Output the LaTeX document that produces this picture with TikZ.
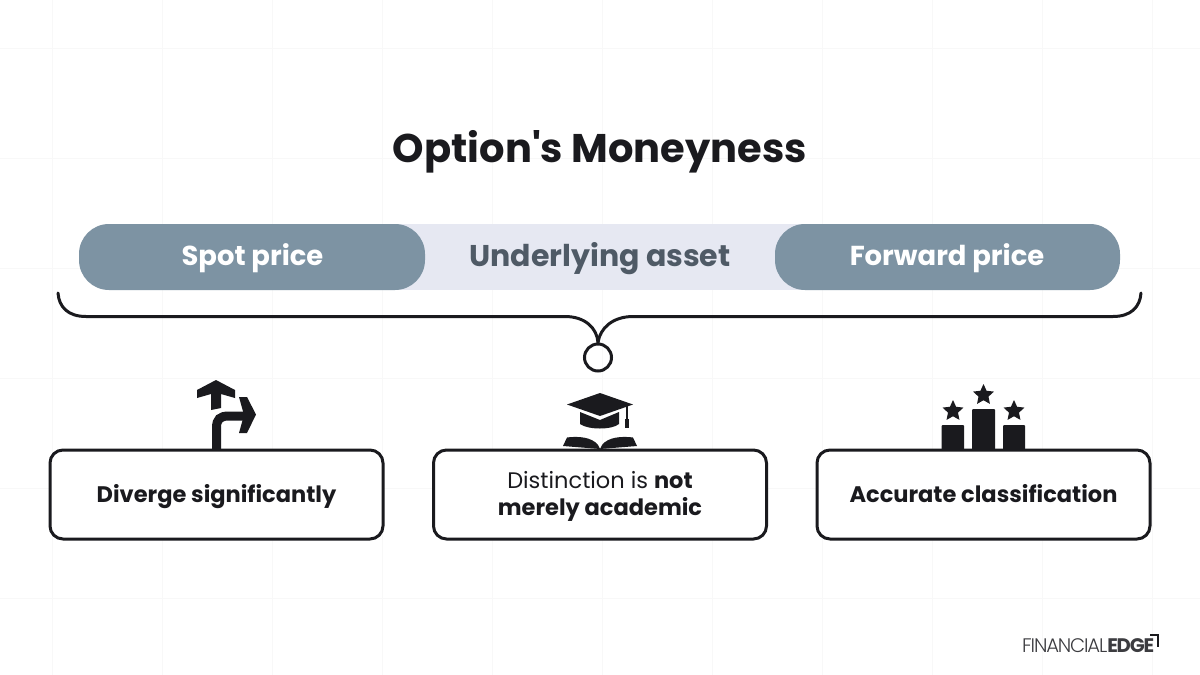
\documentclass[tikz,border=0pt]{standalone}
\usepackage{fontspec}
\setmainfont{Poppins}
\newfontfamily\lightfont{Poppins Light}
\newfontfamily\rawfont{Poppins}[Ligatures=Common]
\newcommand{\cardtxt}[1]{\raisebox{-2pt}[\height][\depth]{#1}}
\usetikzlibrary{shapes.geometric}
\definecolor{ink}{HTML}{1A1A1E}
\definecolor{pill}{HTML}{7D93A3}
\definecolor{band}{HTML}{E6E8F2}
\definecolor{midtxt}{HTML}{4F5A66}
\definecolor{gridc}{HTML}{F8F8F8}
\tikzset{
  x=1pt,y=-1pt,
  pillbox/.style={fill=pill,rounded corners=30pt},
  cardbox/.style={draw=ink,line width=3pt,fill=white,rounded corners=13pt,minimum width=333pt,minimum height=89pt,inner sep=0pt,align=center,font=\fontsize{22.5}{28}\selectfont,text=ink},
  pilltext/.style={text=white,font=\fontsize{27.4}{32}\bfseries\selectfont},
  gridline/.style={draw=gridc,line width=0.8pt},
  starshape/.style={star,star points=5,star point ratio=2.1,fill=ink,draw=none,inner sep=0pt,minimum size=#1}
}
\begin{document}
\begin{tikzpicture}
\useasboundingbox (0,0) rectangle (1200,675);
\fill[white] (0,0) rectangle (1200,675);
% faint background grid
\foreach \gx in {52,162,272,382,492,602,712,822,932,1042,1152}
  \draw[gridline] (\gx,0) -- (\gx,675);
\foreach \gy in {48,158,268,378,488,598}
  \draw[gridline] (0,\gy) -- (1200,\gy);
% title
\node[text=ink,font=\fontsize{40}{48}\selectfont] (title) at (600,152) {\rawfont\bfseries Option's Moneyness};
% band
\fill[band] (250,224) rectangle (950,290);
\path[pillbox] (79,224) rectangle (425,290);
\path[pillbox] (775,224) rectangle (1120,290);
\node[pilltext] (spot) at (252.5,258) {Spot price};
\node[pilltext] (fwd) at (947,258) {Forward price};
\node[text=midtxt,font=\fontsize{30}{34}\bfseries\selectfont] (under) at (600,259) {Underlying asset};
% brace
\node[circle,draw=ink,line width=3pt,minimum size=27pt,inner sep=0pt] (ring) at (598,357.5) {};
\coordinate (bl) at (58,293);
\coordinate (br) at (1141,293);
\draw[ink,line width=3pt,line cap=round]
  (bl) .. controls (59,307) and (68,316.5) .. (86,316.5) -- (565,316.5)
  .. controls (585,316.5) and (597,328) .. (ring.north);
\draw[ink,line width=3pt,line cap=round]
  (br) .. controls (1140,307) and (1131,316.5) .. (1113,316.5) -- (633,316.5)
  .. controls (613,316.5) and (600,328) .. (ring.north);
% cards
\node[cardbox] (c1) at (216.5,494.5) {\cardtxt{\textbf{Diverge significantly}\vphantom{Ag}}};
\node[cardbox] (c2) at (600,494.5) {\cardtxt{Distinction is \textbf{not}}\\[-1pt]\cardtxt{\textbf{merely academic}}};
\node[cardbox] (c3) at (983.5,494.5) {\cardtxt{\textbf{Accurate classification}\vphantom{Ag}}};
% turn icon
\fill[ink] (216,380) -- (235,390) -- (235,398) -- (221,394) -- (221,408) -- (211,410) -- (211,394) -- (197,398) -- (197,390) -- cycle;
\draw[ink,line width=9pt] (216.5,449) -- (216.5,428) .. controls (216.5,419) and (220,416) .. (229,416) -- (246,416);
\fill[ink] (239,397) -- (247,397) -- (256,414.5) -- (247,433) -- (239,433) -- (244,415) -- cycle;
% grad cap icon
\fill[ink] (600,393) -- (633,404.5) -- (600,416) -- (567,404.5) -- cycle;
\fill[ink] (580,412) -- (600,420) -- (619,412) -- (619,424) .. controls (612,430) and (588,430) .. (580,424) -- cycle;
\fill[ink] (625.5,405) rectangle (627.5,419);
\fill[ink] (624.5,419) rectangle (628.5,428);
\fill[ink] (567,437.5) .. controls (578,436) and (592,437) .. (598,445) -- (600,449) -- (563,446) -- cycle;
\fill[ink] (633,437.5) .. controls (622,436) and (608,437) .. (602,445) -- (600,449) -- (637,446) -- cycle;
% podium icon
\fill[ink,rounded corners=1pt] (941.5,425) rectangle (964,450);
\fill[ink,rounded corners=1pt] (972,409) rectangle (995,450);
\fill[ink,rounded corners=1pt] (1003,425) rectangle (1025,450);
\node[starshape=22pt] (s1) at (953,411) {};
\node[starshape=22pt] (s2) at (983.5,395) {};
\node[starshape=22pt] (s3) at (1014,411) {};
% logo
\node[anchor=west,inner sep=0pt,text=ink!85,font=\fontsize{19.6}{21}\selectfont] (logo) at (1022,646) {\lightfont\addfontfeature{LetterSpace=-6}FINANCIAL{\rmfamily\bfseries\addfontfeature{LetterSpace=-6}EDGE}};
\coordinate (k1) at (1150,634.5);
\coordinate (k2) at (1157.5,634.5);
\coordinate (k3) at (1157.5,647);
\draw[ink,line width=2pt] (k1) -- (k2) -- (k3);
\end{tikzpicture}
\end{document}
